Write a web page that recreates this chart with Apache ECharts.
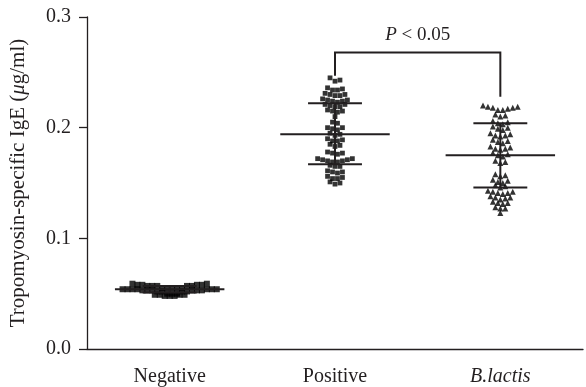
<!DOCTYPE html>
<html><head><meta charset="utf-8">
<script src="https://cdn.jsdelivr.net/npm/echarts@6/dist/echarts.min.js"></script>
<style>html,body{margin:0;padding:0;background:#fff}#c{width:586px;height:387px}</style>
</head><body><div id="c"></div>
<script>
const categories = ['Negative', 'Positive', 'B.lactis'];
const yMin = 0, yMax = 0.3, yStep = 0.1;

const negativeValues = [
  0.059, 0.059, 0.058, 0.058, 0.058, 0.058, 0.057, 0.057, 0.057, 0.057, 0.057,
  0.055, 0.055, 0.055, 0.055, 0.055, 0.054, 0.054, 0.054, 0.054, 0.054, 0.054,
  0.054, 0.053, 0.053, 0.053, 0.053, 0.053, 0.053, 0.052, 0.052, 0.052, 0.052,
  0.050, 0.050, 0.050, 0.049, 0.049, 0.049, 0.049, 0.048, 0.048, 0.048
];
const positiveValues = [
  0.245, 0.243, 0.242,
  0.236, 0.235, 0.234, 0.234,
  0.231, 0.230, 0.230, 0.229, 0.229,
  0.226, 0.225, 0.225, 0.224, 0.224, 0.223,
  0.221, 0.221, 0.220, 0.219, 0.219,
  0.216, 0.215, 0.215, 0.214,
  0.210,
  0.205, 0.204,
  0.200, 0.200, 0.199, 0.198,
  0.195, 0.194, 0.193,
  0.190, 0.189, 0.188, 0.188,
  0.185, 0.184, 0.183,
  0.178, 0.177, 0.177, 0.176,
  0.172, 0.172, 0.171, 0.171, 0.170, 0.170, 0.169, 0.169,
  0.166, 0.165, 0.165,
  0.161, 0.160, 0.160, 0.159,
  0.156, 0.155, 0.154, 0.154,
  0.151, 0.150, 0.149
];
const blactisValues = [
  0.220, 0.219, 0.219, 0.218, 0.218, 0.217, 0.216, 0.216,
  0.212, 0.211, 0.210,
  0.206, 0.205, 0.204, 0.203,
  0.201, 0.200, 0.199, 0.198,
  0.195, 0.194, 0.193, 0.193, 0.192,
  0.189, 0.188, 0.187, 0.186,
  0.183, 0.182, 0.181, 0.181, 0.180,
  0.177, 0.176, 0.175, 0.174,
  0.170, 0.169, 0.168,
  0.158, 0.157, 0.156,
  0.153, 0.152, 0.151, 0.150,
  0.148, 0.147, 0.146,
  0.143, 0.142, 0.142, 0.141, 0.141, 0.140,
  0.138, 0.137, 0.137, 0.136, 0.135,
  0.133, 0.132, 0.132, 0.131,
  0.128, 0.127, 0.127,
  0.123
];
const means = [0.054, 0.194, 0.175];
const sdUpper = [0.057, 0.222, 0.204];
const sdLower = [0.051, 0.167, 0.146];
const bracketGroups = [1, 2];
const bracketLevels = [0.247, 0.268, 0.228]; // left foot, top, right foot
const pLabel = 'P < 0.05';

const FONT = '"Liberation Serif", "Times New Roman", serif';
const INK = '#231f20';
const DOT = '#000';

function swarm(values, catIndex, bin, step) {
  const sorted = values.slice().sort((a, b) => b - a);
  const rows = []; let cur = null;
  for (const v of sorted) {
    if (!cur || cur.start - v > bin) { cur = { start: v, items: [] }; rows.push(cur); }
    cur.items.push(v);
  }
  const pts = [];
  rows.forEach(r => {
    const items = r.items.slice().sort((a, b) => a - b);
    const n = items.length;
    items.forEach((v, i) => {
      let off;
      if (n % 2 === 0) off = (Math.floor(i / 2) + 0.5) * (i % 2 ? -1 : 1);
      else off = i === 0 ? 0 : Math.ceil(i / 2) * (i % 2 ? 1 : -1);
      pts.push([catIndex + off * step, v]);
    });
  });
  return pts;
}

const chart = echarts.init(document.getElementById('c'), null, { renderer: 'canvas' });
const BIN = 0.0045, STEP = 0.030;

chart.setOption({
  animation: false,
  backgroundColor: '#fff',
  grid: { left: 86, right: 3, top: 17, bottom: 38, containLabel: false },
  xAxis: [
    {
      type: 'category', data: categories, boundaryGap: true,
      axisLine: { lineStyle: { color: INK, width: 1.3 } },
      axisTick: { alignWithLabel: true, length: 7, lineStyle: { color: INK, width: 1.3 } },
      axisLabel: {
        margin: 18, color: INK, fontFamily: FONT, fontSize: 20,
        formatter: v => v === 'B.lactis' ? '{i|' + v + '}' : v,
        rich: { i: { fontStyle: 'italic', fontFamily: FONT, fontSize: 20, color: INK } }
      },
      splitLine: { show: false }
    },
    { type: 'value', min: -0.5, max: 2.5, show: false }
  ],
  yAxis: {
    type: 'value', min: yMin, max: yMax, interval: yStep,
    name: '{n|Tropomyosin-specific IgE (}{i|μ}{n|g/ml)}',
    nameLocation: 'middle', nameGap: 58, nameRotate: 90,
    nameTextStyle: {
      rich: {
        n: { fontFamily: FONT, fontSize: 21, color: INK },
        i: { fontFamily: FONT, fontSize: 21, color: INK, fontStyle: 'italic' }
      }
    },
    axisLine: { show: true, onZero: false, lineStyle: { color: INK, width: 1.3 } },
    axisTick: { show: true, length: 8, lineStyle: { color: INK, width: 1.3 } },
    axisLabel: { margin: 16, color: INK, fontFamily: FONT, fontSize: 20, formatter: v => v.toFixed(1) },
    splitLine: { show: false }
  },
  series: [
    { type: 'scatter', xAxisIndex: 1, symbol: 'rect', symbolSize: 6, itemStyle: { color: DOT }, data: swarm(negativeValues, 0, BIN, STEP), z: 2 },
    { type: 'scatter', xAxisIndex: 1, symbol: 'rect', symbolSize: 4.8, itemStyle: { color: DOT }, data: swarm(positiveValues, 1, BIN, STEP), z: 2 },
    { type: 'scatter', xAxisIndex: 1, symbol: 'triangle', symbolSize: 6, itemStyle: { color: DOT }, data: swarm(blactisValues, 2, BIN, STEP), z: 2 },
    {
      type: 'custom', xAxisIndex: 1, z: 5, silent: true,
      data: categories.map((c, i) => [i, means[i], sdUpper[i], sdLower[i]]),
      renderItem(params, api) {
        const x = api.value(0);
        const ls = { stroke: INK, lineWidth: 2 };
        const seg = (x1, y1, x2, y2) => {
          const a = api.coord([x1, y1]), b = api.coord([x2, y2]);
          return { type: 'line', shape: { x1: a[0], y1: a[1], x2: b[0], y2: b[1] }, style: ls };
        };
        const mw = 0.331, sw = 0.163;
        return {
          type: 'group', children: [
            seg(x - mw, api.value(1), x + mw, api.value(1)),
            seg(x - sw, api.value(2), x + sw, api.value(2)),
            seg(x - sw, api.value(3), x + sw, api.value(3)),
            seg(x, api.value(3), x, api.value(2))
          ]
        };
      }
    },
    {
      type: 'custom', xAxisIndex: 1, z: 6, silent: true,
      data: [[bracketGroups[0], bracketGroups[1], bracketLevels[0], bracketLevels[1], bracketLevels[2]]],
      renderItem(params, api) {
        const a = api.coord([api.value(0), api.value(2)]);
        const b = api.coord([api.value(0), api.value(3)]);
        const c = api.coord([api.value(1), api.value(3)]);
        const d = api.coord([api.value(1), api.value(4)]);
        return {
          type: 'group', children: [
            { type: 'polyline', shape: { points: [a, b, c, d] }, style: { stroke: INK, lineWidth: 2, fill: null } },
            {
              type: 'text', x: (b[0] + c[0]) / 2, y: b[1] - 8,
              style: {
                text: '{i|P}{n|' + pLabel.slice(1) + '}',
                align: 'center', verticalAlign: 'bottom',
                rich: {
                  i: { fontFamily: FONT, fontSize: 19, fontStyle: 'italic', fill: INK },
                  n: { fontFamily: FONT, fontSize: 19, fill: INK }
                }
              }
            }
          ]
        };
      }
    }
  ]
});
</script>
</body></html>
